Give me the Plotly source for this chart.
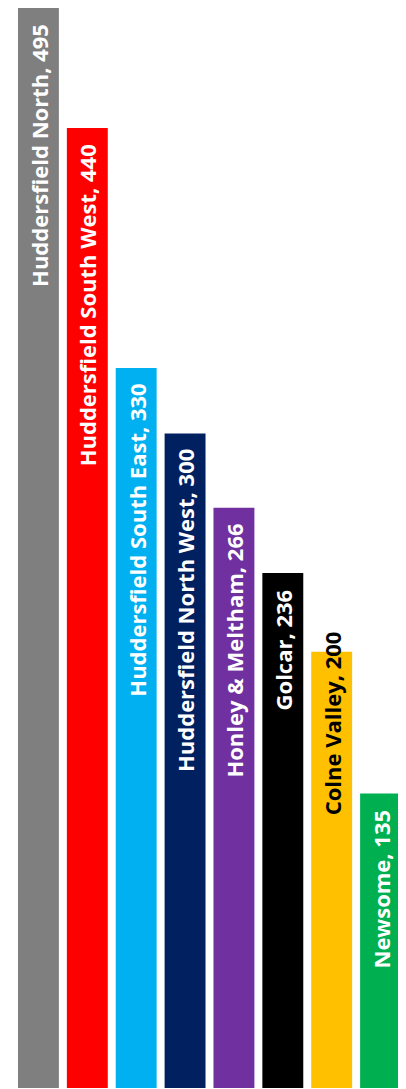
import plotly.graph_objects as go

categories = ["Huddersfield North", "Huddersfield South West", "Huddersfield South East",
              "Huddersfield North West", "Honley & Meltham", "Golcar", "Colne Valley", "Newsome"]
values = [495, 440, 330, 300, 266, 236, 200, 135]
colors = ["#7f7f7f", "#ff0000", "#00b0f0", "#002060", "#7030a0", "#000000", "#ffc000", "#00b050"]
text_colors = ["white", "white", "white", "white", "white", "white", "black", "white"]
label_shift = [-14, -14, -14, -14, -14, -14, 22, -14]

fig = go.Figure(go.Bar(x=categories, y=values, marker=dict(color=colors, line=dict(width=0)),
                       hoverinfo="skip"))

for c, v, tc, s in zip(categories, values, text_colors, label_shift):
    fig.add_annotation(x=c, y=v, text=f"<b>{c}, {v}</b>", textangle=-90, showarrow=False,
                       yanchor="top", xanchor="center", yshift=s,
                       font=dict(family="Open Sans, sans-serif", size=22, color=tc))

fig.update_layout(width=406, height=1089, margin=dict(l=6, r=9, t=0, b=9),
                  plot_bgcolor="white", paper_bgcolor="white", bargap=0.163, showlegend=False)
fig.update_xaxes(visible=False)
fig.update_yaxes(visible=False, range=[0, 495])
fig.write_html("out.html")
